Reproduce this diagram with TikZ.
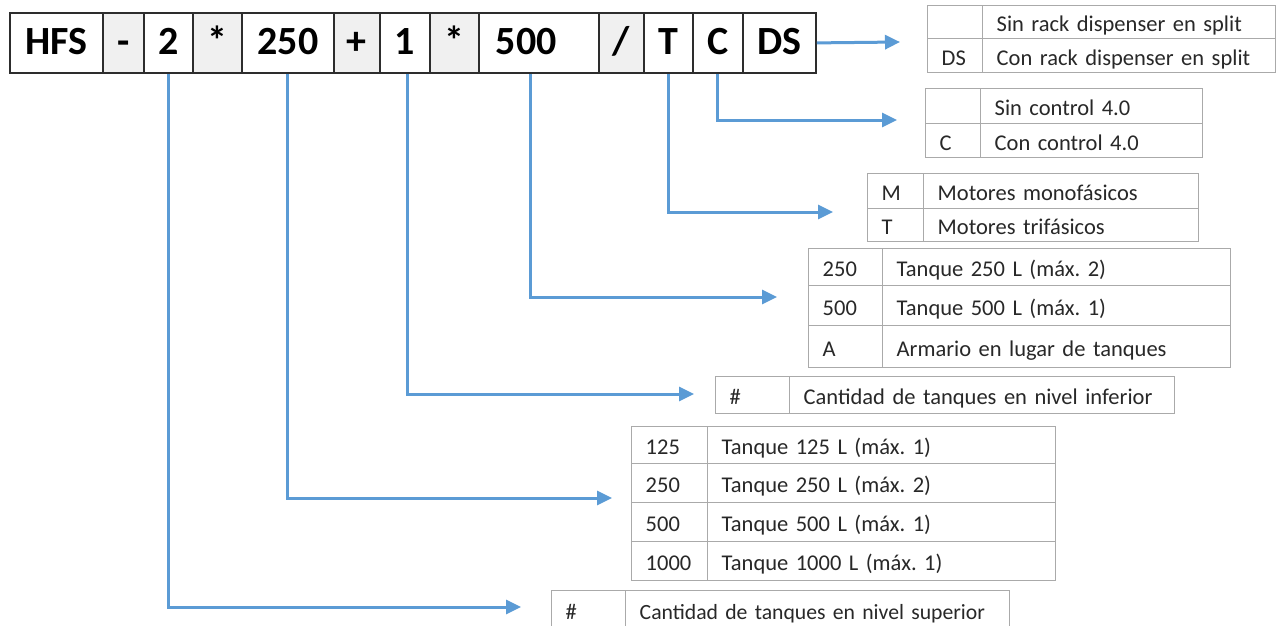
\documentclass[tikz,border=0pt]{standalone}
\usepackage{fontspec}
\setmainfont{Carlito}
\usetikzlibrary{arrows.meta}
\definecolor{arrblue}{RGB}{91,155,213}
\definecolor{tgray}{RGB}{170,170,170}
\definecolor{barline}{RGB}{45,45,45}
\definecolor{barfill}{RGB}{240,240,240}
\definecolor{txt}{RGB}{40,40,40}
\frenchspacing
\begin{document}
\begin{tikzpicture}[x=1pt,y=-1pt,
  barcell/.style={draw=barline, line width=1.8pt, minimum height=60pt, inner sep=0pt, anchor=north west,
    font=\fontsize{40}{44}\selectfont\bfseries, text height=27pt, text depth=4pt},
  barcellg/.style={barcell, fill=barfill},
  tcell/.style={draw=tgray, line width=1.4pt, inner xsep=14pt, inner ysep=0pt, anchor=north west, align=left,
    font=\fontsize{22.5}{26}\selectfont\frenchspacing, text=txt, text height=22pt, text depth=3pt},
  conn/.style={draw=arrblue, line width=3pt, -{Triangle[length=15pt,width=14pt]}},
]
\fill[white] (0,0) rectangle (1277,625);
\useasboundingbox (0,0) rectangle (1277,625);

% code bar: grey cells first
\node[barcellg, minimum width=41pt] (cdash) at (102,12) {-};
\node[barcellg, minimum width=49pt] (cst1) at (192,12) {*};
\node[barcellg, minimum width=46pt] (cplus) at (333,12) {+};
\node[barcellg, minimum width=49pt] (cst2) at (429,12) {*};
\node[barcellg, minimum width=45pt] (cslash) at (598,12) {/};
% white cells
\node[barcell, minimum width=93pt] (cHFS) at (9,12) {HFS};
\node[barcell, minimum width=49pt] (c2) at (143,12) {2};
\node[barcell, minimum width=92pt] (c250) at (241,12) {250};
\node[barcell, minimum width=50pt] (c1) at (379,12) {1};
\node[barcell, minimum width=120pt] (c500) at (478,12) {500\hspace*{25pt}};
\node[barcell, minimum width=49pt] (cT) at (643,12) {T};
\node[barcell, minimum width=50pt] (cC) at (692,12) {C};
\node[barcell, minimum width=73pt] (cDS) at (742,12) {DS};

% table DS
\node[tcell, text width=27pt, minimum height=33pt] (ds11) at (927,5) {};
\node[tcell, text width=265pt, minimum height=33pt] (ds12) at (982,5) {Sin rack dispenser en split};
\node[tcell, text width=27pt, minimum height=34pt] (ds21) at (927,38) {DS};
\node[tcell, text width=265pt, minimum height=34pt] (ds22) at (982,38) {Con rack dispenser en split};

% table C
\node[tcell, text width=27pt, minimum height=35pt] (cc11) at (925,88) {};
\node[tcell, text width=194pt, minimum height=35pt] (cc12) at (980,88) {Sin control 4.0};
\node[tcell, text width=27pt, minimum height=34pt] (cc21) at (925,123) {C};
\node[tcell, text width=194pt, minimum height=34pt] (cc22) at (980,123) {Con control 4.0};

% table M/T
\node[tcell, text width=28pt, minimum height=35pt] (mt11) at (867,173) {M};
\node[tcell, text width=247pt, minimum height=35pt] (mt12) at (923,173) {Motores monofásicos};
\node[tcell, text width=28pt, minimum height=33pt] (mt21) at (867,208) {T};
\node[tcell, text width=247pt, minimum height=33pt] (mt22) at (923,208) {Motores trifásicos};

% table lower tanks
\node[tcell, text width=46pt, minimum height=37pt] (lo11) at (808,248) {250};
\node[tcell, text width=320pt, minimum height=37pt] (lo12) at (882,248) {Tanque 250 L (máx. 2)};
\node[tcell, text width=46pt, minimum height=40pt] (lo21) at (808,285) {500};
\node[tcell, text width=320pt, minimum height=40pt] (lo22) at (882,285) {Tanque 500 L (máx. 1)};
\node[tcell, text width=46pt, minimum height=42pt] (lo31) at (808,325) {A};
\node[tcell, text width=320pt, minimum height=42pt] (lo32) at (882,325) {Armario en lugar de tanques};

% table count lower
\node[tcell, text width=46pt, minimum height=37pt] (ni11) at (715,376) {\#};
\node[tcell, text width=357pt, minimum height=37pt] (ni12) at (789,376) {Cantidad de tanques en nivel inferior};

% table upper tanks
\node[tcell, text width=48pt, minimum height=37pt] (up11) at (631,426) {125};
\node[tcell, text width=320pt, minimum height=37pt] (up12) at (707,426) {Tanque 125 L (máx. 1)};
\node[tcell, text width=48pt, minimum height=39pt] (up21) at (631,463) {250};
\node[tcell, text width=320pt, minimum height=39pt] (up22) at (707,463) {Tanque 250 L (máx. 2)};
\node[tcell, text width=48pt, minimum height=39pt] (up31) at (631,502) {500};
\node[tcell, text width=320pt, minimum height=39pt] (up32) at (707,502) {Tanque 500 L (máx. 1)};
\node[tcell, text width=48pt, minimum height=39pt] (up41) at (631,541) {1000};
\node[tcell, text width=320pt, minimum height=39pt] (up42) at (707,541) {Tanque 1000 L (máx. 1)};

% table count upper
\node[tcell, text width=46pt, minimum height=38pt] (ns11) at (551,590) {\#};
\node[tcell, text width=356pt, minimum height=38pt, font=\fontsize{21.7}{26}\selectfont\frenchspacing] (ns12) at (625,590) {\mbox{Cantidad de tanques en nivel superior}};

% arrow ends
\coordinate (aDS) at (900,42);
\coordinate (aC) at (897,120);
\coordinate (aT) at (833,212);
\coordinate (a500) at (777,297);
\coordinate (a1) at (694,394);
\coordinate (a250) at (612,498);
\coordinate (a2) at (521,607);

\draw[conn] (cDS.east) -- (aDS);
\draw[conn] (cC.south) |- (aC);
\draw[conn] (cT.south) |- (aT);
\draw[conn] ([xshift=-8pt]c500.south) |- (a500);
\draw[conn] ([xshift=3pt]c1.south) |- (a1);
\draw[conn] (c250.south) |- (a250);
\draw[conn] (c2.south) |- (a2);
\end{tikzpicture}
\end{document}
